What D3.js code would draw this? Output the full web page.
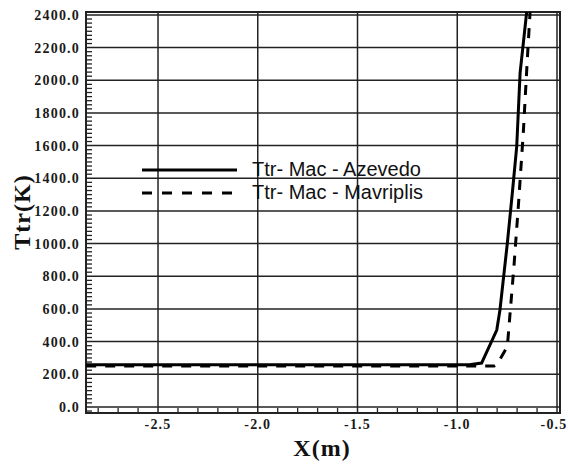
<head>
    <meta name="viewport" content="width=device-width, initial-scale=1">
    <style>
        body { margin: 0; background: #ffffff; }
        .tick-lbl { font-family: "Liberation Serif", serif; font-weight: bold; font-size: 14px; letter-spacing: 1.2px; fill: #1a1a1a; }
        .axis-title { font-family: "Liberation Serif", serif; font-weight: bold; font-size: 24px; letter-spacing: 1px; fill: #111; }
        .legend-txt { font-family: "Liberation Sans", Arial, sans-serif; font-size: 20px; fill: #111; }
    </style>
    <script src="https://d3js.org/d3.v7.min.js"></script>
</head>
<body>
    <div id="chart"></div>
    <script>
        // Ttr along X
        const xAzevedo = [-2.86, -0.94, -0.878, -0.802, -0.786, -0.749, -0.724, -0.702, -0.685, -0.652];
        const tAzevedo = [258, 258, 269, 471, 594, 1002, 1310, 1594, 2045, 2418];
        const xMavriplis = [-2.86, -0.815, -0.80, -0.749, -0.716, -0.694, -0.669, -0.649, -0.635];
        const tMavriplis = [251, 251, 262, 369, 859, 1226, 1678, 2125, 2418];

        const xMajor = [-2.5, -2.0, -1.5, -1.0, -0.5];
        const yMajor = [0, 200, 400, 600, 800, 1000, 1200, 1400, 1600, 1800, 2000, 2200, 2400];
        const legendNames = ["Ttr- Mac - Azevedo", "Ttr- Mac - Mavriplis"];

        const width = 568, height = 464;
        const plotL = 86, plotR = 560, plotT = 12, plotB = 413;

        var svg = d3.select("#chart")
            .append("svg")
            .attr("width", width)
            .attr("height", height);

        var x = d3.scaleLinear().domain([-2.861, -0.485]).range([plotL, plotR]);
        var y = d3.scaleLinear().domain([-37, 2418]).range([plotB, plotT]);

        // grid
        svg.append("g").selectAll("line")
            .data(xMajor)
            .enter().append("line")
            .attr("x1", d => x(d)).attr("x2", d => x(d))
            .attr("y1", plotT).attr("y2", plotB)
            .attr("stroke", "#222").attr("stroke-width", 1.5);

        svg.append("g").selectAll("line")
            .data(yMajor)
            .enter().append("line")
            .attr("x1", plotL).attr("x2", plotR)
            .attr("y1", d => y(d)).attr("y2", d => y(d))
            .attr("stroke", "#222").attr("stroke-width", 1.5);

        // minor ticks
        var xMinor = d3.range(-28, -4).map(d => d / 10).filter(d => Math.abs(d * 2 - Math.round(d * 2)) > 1e-6);
        svg.append("g").selectAll("line")
            .data(xMinor)
            .enter().append("line")
            .attr("x1", d => x(d)).attr("x2", d => x(d))
            .attr("y1", plotB).attr("y2", plotB - 5)
            .attr("stroke", "#222").attr("stroke-width", 1.3);

        var yMinor = d3.range(-25, 2425, 25).filter(d => d % 200 != 0);
        svg.append("g").selectAll("line")
            .data(yMinor)
            .enter().append("line")
            .attr("x1", plotL).attr("x2", plotL + 6)
            .attr("y1", d => y(d)).attr("y2", d => y(d))
            .attr("stroke", "#222").attr("stroke-width", 1.3);

        // frame
        svg.append("rect")
            .attr("x", plotL).attr("y", plotT)
            .attr("width", plotR - plotL).attr("height", plotB - plotT)
            .attr("fill", "none").attr("stroke", "#222").attr("stroke-width", 2);

        // tick labels
        svg.append("g").selectAll("text")
            .data(yMajor)
            .enter().append("text")
            .attr("class", "tick-lbl")
            .attr("x", 80).attr("y", d => y(d) + 5)
            .attr("text-anchor", "end")
            .text(d => d.toFixed(1));

        svg.append("g").selectAll("text")
            .data(xMajor)
            .enter().append("text")
            .attr("class", "tick-lbl")
            .attr("x", d => Math.min(x(d), width - 14)).attr("y", 429)
            .attr("text-anchor", "middle")
            .text(d => d.toFixed(1));

        svg.append("text")
            .attr("class", "axis-title")
            .attr("x", 322).attr("y", 456)
            .attr("text-anchor", "middle")
            .text("X(m)");

        svg.append("text")
            .attr("class", "axis-title")
            .attr("transform", "translate(30,212) rotate(-90)")
            .attr("text-anchor", "middle")
            .text("Ttr(K)");

        // curves
        var line = d3.line().x(d => x(d[0])).y(d => y(d[1]));

        svg.append("path")
            .datum(d3.zip(xMavriplis, tMavriplis))
            .attr("d", line)
            .attr("fill", "none").attr("stroke", "#000")
            .attr("stroke-width", 3).attr("stroke-dasharray", "10,9");

        svg.append("path")
            .datum(d3.zip(xAzevedo, tAzevedo))
            .attr("d", line)
            .attr("fill", "none").attr("stroke", "#000")
            .attr("stroke-width", 3);

        // legend
        var legend = svg.append("g");
        legendNames.forEach(function(name, i) {
            var ly = 170 + i * 23;
            legend.append("line")
                .attr("x1", 142).attr("x2", 237)
                .attr("y1", ly).attr("y2", ly)
                .attr("stroke", "#000").attr("stroke-width", 3)
                .attr("stroke-dasharray", i == 1 ? "10,10" : null);
            legend.append("text")
                .attr("class", "legend-txt")
                .attr("x", 252).attr("y", ly + 6)
                .text(name);
        });
    </script>
</body>
